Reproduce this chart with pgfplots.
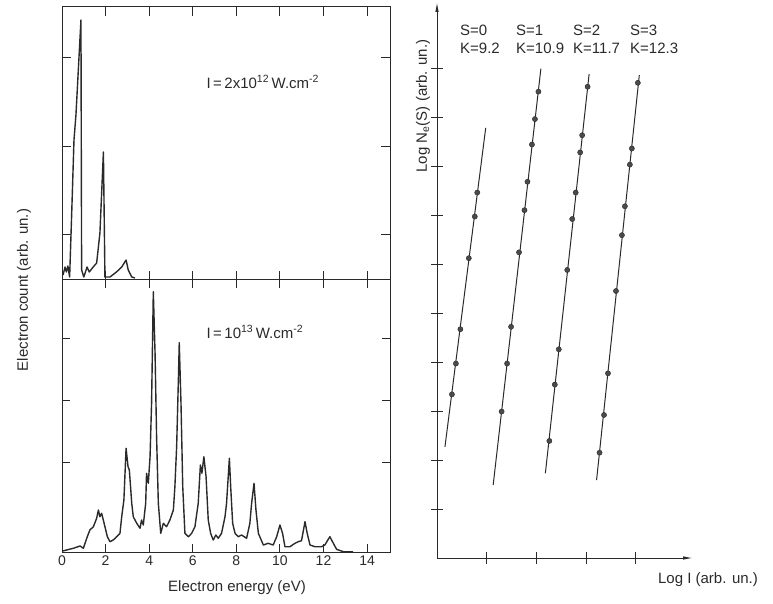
\documentclass[border=0pt]{standalone}
\usepackage{pgfplots}
\pgfplotsset{compat=1.18}
\usepackage{fontspec}
\setmainfont{Liberation Sans}
\usetikzlibrary{arrows.meta}

\definecolor{ink}{HTML}{2A2A2A}

\pgfplotsset{
  scanaxis/.style={
    scale only axis, anchor=south west,
    axis line style={ink, line width=1pt},
    every tick/.style={ink, line width=1pt},
    tick align=inside,
    ticklabel style={font=\fontsize{14}{14}\selectfont, text=ink},
    /pgf/number format/assume math mode=true,
  },
  spec/.style={ink, line width=1.4pt, no marks, line join=round},
  fitline/.style={ink, line width=1pt, no marks},
  pts/.style={only marks, mark=*, mark size=2.6pt, mark options={draw=ink, fill=ink!85}},
}

\begin{document}
\begin{tikzpicture}[font=\fontsize{15}{18}\selectfont]
\path[use as bounding box] (0,0) rectangle (773pt,603pt);

% spectrum at 2x10^12 W/cm2
\begin{axis}[scanaxis, at={(62pt,323pt)}, width=328pt, height=273pt,
  xmin=0, xmax=15.05, ymin=0, ymax=273,
  xtick={0,2,...,14}, ytick={45,133,222},
  xticklabels={}, yticklabels={}, major tick length=9pt]
\addplot[spec] table {
x y
0.05 5
0.14 13
0.20 8
0.27 14
0.35 3
0.44 63
0.55 140
0.64 165
0.87 260
0.90 10
1.00 3
1.15 13
1.25 8
1.43 13
1.59 17
1.74 47
1.90 128
1.97 3
2.20 3
2.44 7
2.60 10
2.74 13
2.94 20
3.04 10
3.20 3
3.35 2
};
\node[anchor=west, text=ink] at (axis cs:6.47,198) {I\,=\,2x10\textsuperscript{12}\,W.cm\textsuperscript{-2}};
\end{axis}

% spectrum at 10^13 W/cm2
\begin{axis}[scanaxis, at={(62pt,51pt)}, width=328pt, height=272pt,
  xmin=0, xmax=15.05, ymin=0, ymax=272,
  xtick={0,2,...,14}, ytick={90,152,214},
  yticklabels={}, major tick length=8pt, xtick pos=both]
\addplot[spec] table {
x y
0.03 1
0.52 3.7
0.83 6
0.98 3.7
1.16 15.3
1.28 22
1.44 25.3
1.59 33.7
1.67 42
1.74 35.3
1.82 38.7
1.97 25.3
2.08 15.3
2.20 10.3
2.35 12
2.51 15.3
2.66 18.7
2.74 35.3
2.84 52
2.94 103.7
3.03 85.3
3.09 82
3.20 48.7
3.27 35.3
3.43 28.7
3.58 23.7
3.65 32
3.73 27
3.84 48.7
3.88 78.7
3.96 68.7
4.04 95.3
4.11 148.7
4.19 260.3
4.27 198.7
4.34 115.3
4.42 48.7
4.53 18.7
4.65 28.7
4.80 25.3
4.95 32
5.11 42
5.18 65.3
5.26 105.3
5.34 172
5.38 209.3
5.46 148.7
5.54 65.3
5.64 18.7
5.80 15.3
5.95 18.7
6.10 25.3
6.25 48.7
6.35 87
6.42 78.7
6.51 95.3
6.61 75.3
6.71 32
6.82 18.7
6.94 12
7.06 17
7.17 13.7
7.32 18.7
7.48 35.3
7.55 48.7
7.68 93.7
7.74 65.3
7.83 28.7
7.94 18.7
8.09 15.3
8.24 17
8.47 13.7
8.62 28.7
8.70 48.7
8.81 68.7
8.90 42
9.01 18.7
9.24 7
9.46 8.7
9.69 7
9.85 15.3
10.00 27
10.12 18.7
10.23 5.3
10.46 5.3
10.69 8.7
10.84 10.3
10.99 11.3
11.15 30.3
11.25 18.7
11.38 7
11.61 5.3
11.80 5.3
11.91 5.3
12.06 7
12.29 15.3
12.45 8.7
12.60 2.7
12.91 0.3
13.36 0.3
};
\node[anchor=west, text=ink] at (axis cs:6.47,220) {I\,=\,10\textsuperscript{13}\,W.cm\textsuperscript{-2}};
\end{axis}

% log N_e(S) versus log I
\begin{axis}[scanaxis, at={(437pt,45pt)}, width=256pt, height=556pt,
  xmin=0, xmax=5.15, ymin=0, ymax=11.35, axis lines=left,
  axis line style={ink, line width=1pt, -{Latex[length=10pt,width=3.5pt]}},
  xtick={1,2,3,4}, ytick={1,...,10}, xticklabels={}, yticklabels={},
  major tick length=12pt, clip=false]
% S=0
\addplot[fitline] coordinates {(0.16,2.27) (0.98,8.78)};
\addplot[pts] coordinates {(0.81,7.46) (0.76,6.97) (0.64,6.12) (0.47,4.67) (0.38,3.97) (0.30,3.34)};
% S=1
\addplot[fitline] coordinates {(1.13,1.49) (2.09,9.99)};
\addplot[pts] coordinates {(2.04,9.52) (1.97,8.96) (1.91,8.44) (1.82,7.68) (1.76,7.10) (1.65,6.24) (1.49,4.72) (1.41,3.97) (1.30,2.99)};
% S=2
\addplot[fitline] coordinates {(2.18,1.73) (3.06,9.88)};
\addplot[pts] coordinates {(3.03,9.62) (2.92,8.63) (2.88,8.28) (2.79,7.46) (2.72,6.92) (2.62,5.88) (2.45,4.26) (2.37,3.54) (2.26,2.39)};
% S=3
\addplot[fitline] coordinates {(3.21,1.59) (4.07,9.86)};
\addplot[pts] coordinates {(4.04,9.70) (3.92,8.36) (3.88,8.03) (3.78,7.18) (3.72,6.59) (3.60,5.45) (3.44,3.77) (3.36,2.92) (3.27,2.15)};
\end{axis}

\node[rotate=90, text=ink] at (24pt,313pt) {Electron count (arb. un.)};
\node[text=ink] at (237pt,15pt) {Electron energy (eV)};
\node[rotate=90, text=ink] at (423pt,497pt) {Log N\textsubscript{e}(S) (arb. un.)};
\node[text=ink] at (708pt,23pt) {Log I (arb. un.)};
\node[anchor=north west, align=left, inner sep=0pt, text=ink] at (460pt,578pt) {S=0\\K=9.2};
\node[anchor=north west, align=left, inner sep=0pt, text=ink] at (516pt,578pt) {S=1\\K=10.9};
\node[anchor=north west, align=left, inner sep=0pt, text=ink] at (573pt,578pt) {S=2\\K=11.7};
\node[anchor=north west, align=left, inner sep=0pt, text=ink] at (630pt,578pt) {S=3\\K=12.3};
\end{tikzpicture}
\end{document}
